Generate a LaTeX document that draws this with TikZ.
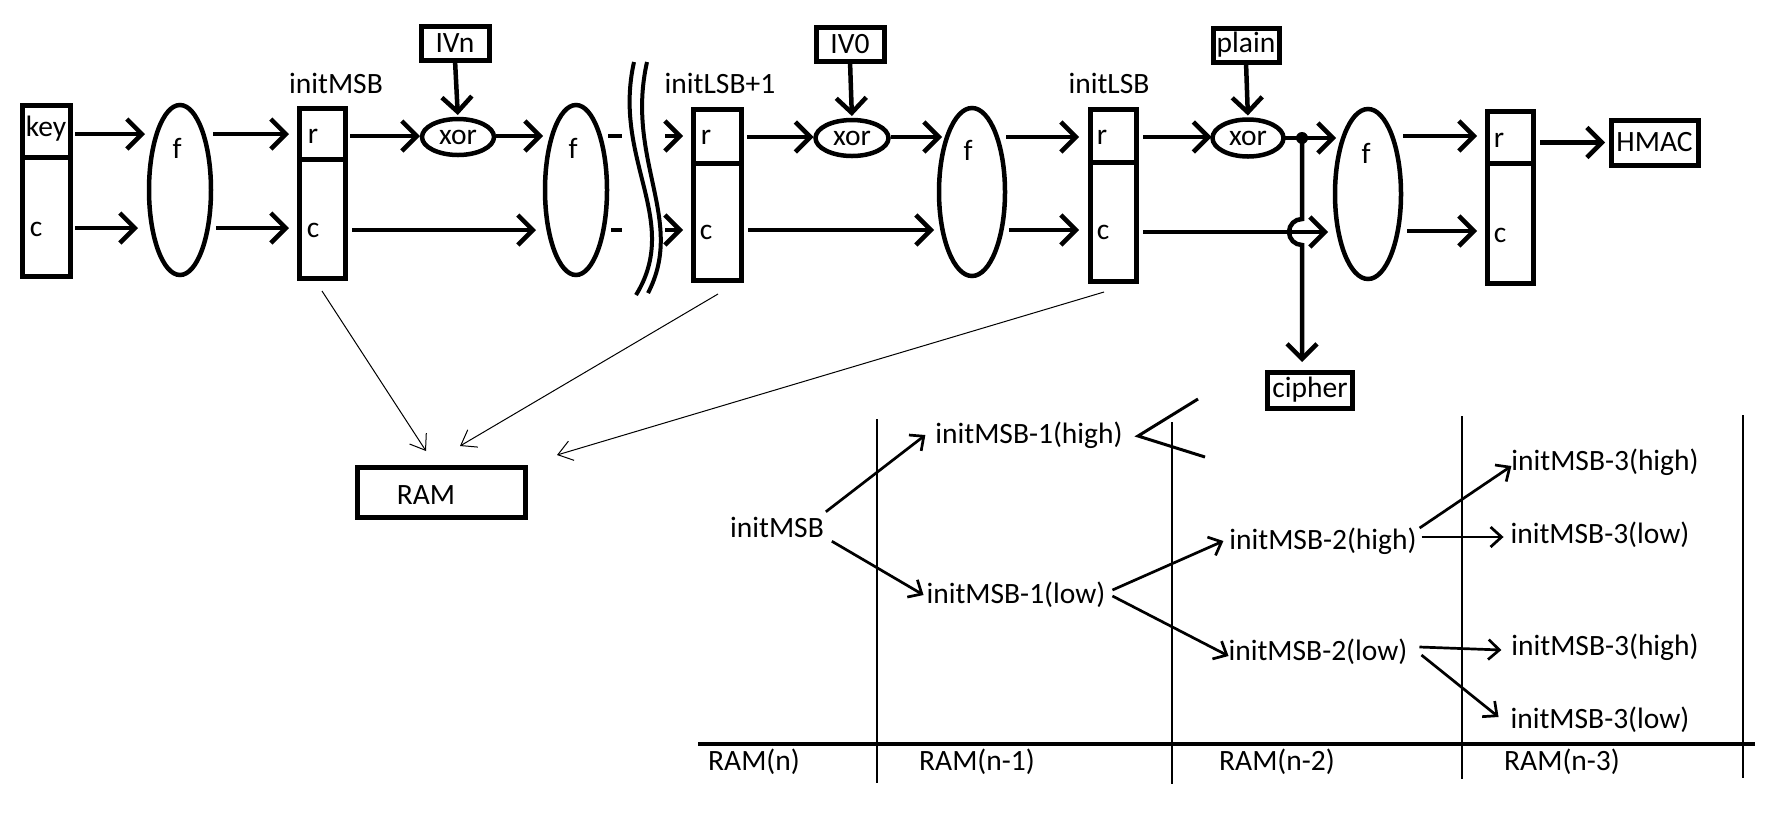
\documentclass[tikz,border=0pt]{standalone}
\usepackage{fontspec}
\setmainfont{Carlito}
\usetikzlibrary{arrows.meta,shapes.geometric,calc}
\begin{document}
\begin{tikzpicture}[x=1pt,y=-1pt,
 every node/.style={font=\fontsize{29.5}{32}\selectfont, inner sep=0pt, outer sep=0pt},
 bx/.style={draw, line width=5pt, rectangle},
 ell/.style={draw, line width=4.5pt, ellipse},
 arr/.style={line width=4.5pt, -{Straight Barb[length=15pt,width=30pt]}},
 tarr/.style={line width=2.7pt, -{Straight Barb[length=11pt,width=20pt]}},
 farr/.style={line width=1pt, -{Straight Barb[length=14pt,width=20pt]}},
 tline/.style={line width=2.7pt},
 brk/.style={line width=4pt},
]
\fill[white] (0,0) rectangle (1784,831);
\useasboundingbox (0,0) rectangle (1784,831);

% row coordinates
\coordinate (yR1) at (0,134); \coordinate (yC1) at (0,228);
\coordinate (yR2) at (0,136); \coordinate (yC2) at (0,230);
\coordinate (yR3) at (0,137); \coordinate (yC3) at (0,230);
\coordinate (yR4) at (0,137); \coordinate (yC4) at (0,232);
\coordinate (yR5) at (0,136); \coordinate (yC5) at (0,231);

% registers
\node[bx, minimum width=48pt, minimum height=52pt] (keyT) at (46,131) {};
\node[bx, minimum width=48pt, minimum height=119pt] (keyC) at (46,216.5) {};
\node (tkey) at (46,129) {key};
\node (tkc) at (36,229) {c};

\node[bx, minimum width=46pt, minimum height=51pt] (msbT) at (322,133.5) {};
\node[bx, minimum width=46pt, minimum height=119pt] (msbC) at (322,218.5) {};
\node (tmr) at (313,136) {r};
\node (tmc) at (313,230) {c};
\node (lmsb) at (336,83) {initMSB};

\node[bx, minimum width=48pt, minimum height=54pt] (lsb1T) at (717,136) {};
\node[bx, minimum width=48pt, minimum height=117pt] (lsb1C) at (717,221.5) {};
\node (t1r) at (706,137) {r};
\node (t1c) at (706,232) {c};
\node (llsb1) at (720,83) {initLSB+1};

\node[bx, minimum width=46pt, minimum height=53pt] (lsbT) at (1113,135.5) {};
\node[bx, minimum width=46pt, minimum height=119pt] (lsbC) at (1113,221.5) {};
\node (tlr) at (1102,137) {r};
\node (tlc) at (1103,232) {c};
\node (llsb) at (1109,83) {initLSB};

\node[bx, minimum width=46pt, minimum height=52pt] (lastT) at (1510,137) {};
\node[bx, minimum width=46pt, minimum height=120pt] (lastC) at (1510,223) {};
\node (tzr) at (1499,140) {r};
\node (tzc) at (1500,235) {c};

% functions
\node[ell, minimum width=62pt, minimum height=170pt] (f1) at (180,190) {};
\node (tf1) at (177,148) {f};
\node[ell, minimum width=62pt, minimum height=170pt] (f2) at (576,190) {};
\node (tf2) at (573,148) {f};
\node[ell, minimum width=66pt, minimum height=168pt] (f3) at (972,192) {};
\node (tf3) at (968,150) {f};
\node[ell, minimum width=66pt, minimum height=170pt] (f4) at (1368,194) {};
\node (tf4) at (1366,153) {f};

% xors
\node[ell, minimum width=72pt, minimum height=36pt] (x1) at (458,137) {xor};
\node[ell, minimum width=73pt, minimum height=36pt] (x2) at (852,138) {xor};
\node[ell, minimum width=71pt, minimum height=37pt] (x3) at (1248,138) {xor};

% inputs / outputs
\node[bx, minimum width=68pt, minimum height=34pt] (ivn) at (455,43) {IVn};
\node[bx, minimum width=68pt, minimum height=34pt] (iv0) at (850,44) {IV0};
\node[bx, minimum width=66pt, minimum height=34pt] (plain) at (1246,45) {plain};
\node[bx, minimum width=87pt, minimum height=45pt] (hmac) at (1654.5,142.5) {HMAC};
\node[bx, minimum width=85pt, minimum height=36pt] (cipher) at (1310,390) {cipher};
\node[bx, minimum width=168pt, minimum height=50pt] (ram) at (441,492) {};
\node (tram) at (426,495) {RAM};

% stage 1
\draw[arr, shorten <=5pt, shorten >=4pt] (keyT.east |- yR1) -- (f1.west |- yR1);
\draw[arr, shorten <=5pt, shorten >=11pt] (keyC.east |- yC1) -- (f1.west |- yC1);
\draw[arr, shorten <=2pt, shorten >=10pt] (f1.east |- yR1) -- (msbT.west |- yR1);
\draw[arr, shorten <=5pt, shorten >=10pt] (f1.east |- yC1) -- (msbC.west |- yC1);

% stage 2
\draw[arr, shorten <=5pt, shorten >=2pt] (msbT.east |- yR2) -- (x1.west |- yR2);
\draw[arr, shorten <=2pt, shorten >=2pt] (x1.east |- yR2) -- (f2.west |- yR2);
\draw[arr, shorten <=7pt, shorten >=9pt] (msbC.east |- yC2) -- (f2.west |- yC2);
\draw[arr, shorten <=0pt, shorten >=4pt] (ivn.south) -- (x1.north);
\draw[line width=4.5pt, shorten <=1pt] (f2.east |- yR2) -- +(15,0);
\draw[line width=4.5pt, shorten <=4pt] (f2.east |- yC2) -- +(15,0);
\draw[brk] (634,62) .. controls (612,160) and (682,220) .. (636,295);
\draw[brk] (647,62) .. controls (625,160) and (686,220) .. (648,293);
\draw[arr, shorten >=10pt] (lsb1T.west |- yR2) ++(-28,0) -- (lsb1T.west |- yR2);
\draw[arr, shorten >=10pt] (lsb1C.west |- yC2) ++(-28,0) -- (lsb1C.west |- yC2);

% stage 3
\draw[arr, shorten <=6pt, shorten >=2pt] (lsb1T.east |- yR3) -- (x2.west |- yR3);
\draw[arr, shorten <=2pt, shorten >=-3pt] (x2.east |- yR3) -- (f3.west |- yR3);
\draw[arr, shorten <=7pt, shorten >=5pt] (lsb1C.east |- yC3) -- (f3.west |- yC3);
\draw[arr, shorten >=4pt] (iv0.south) -- (x2.north);
\draw[arr, shorten <=1pt, shorten >=11pt] (f3.east |- yR3) -- (lsbT.west |- yR3);
\draw[arr, shorten <=4pt, shorten >=11pt] (f3.east |- yC3) -- (lsbC.west |- yC3);

% stage 4
\draw[arr, shorten <=7pt, shorten >=1pt] (lsbT.east |- yR4) -- (x3.west |- yR4);
\draw[arr, shorten >=4pt] (plain.south) -- (x3.north);
\coordinate (split) at (1302,138);
\draw[arr, shorten >=-1pt] (x3.east) -- (f4.west |- x3.east);
\fill (split) circle (6pt);
\draw[arr, shorten <=7pt, shorten >=7pt] (lsbC.east |- yC4) -- (f4.west |- yC4);
\draw[arr, shorten >=10pt] (split) -- (1302,219) arc[start angle=90, end angle=270, radius=13pt] -- (split |- cipher.north);

% stage 5
\draw[arr, shorten <=2pt, shorten >=10pt] (f4.east |- yR5) -- (lastT.west |- yR5);
\draw[arr, shorten <=6pt, shorten >=10pt] (f4.east |- yC5) -- (lastC.west |- yC5);
\draw[arr, shorten <=7pt, shorten >=6pt] (lastT.east |- hmac.west) -- (hmac.west);

% thin arrows to RAM
\draw[farr] ([yshift=-13pt]msbC.south) -- ([xshift=-15pt,yshift=16pt]ram.north);
\draw[farr] ([xshift=1pt,yshift=-14pt]lsb1C.south) -- ([xshift=19pt,yshift=21pt]ram.north);
\draw[farr] ([xshift=-9pt,yshift=-11pt]lsbC.south) -- ([xshift=32pt,yshift=12pt]ram.north east);

% table
\draw[tline] (877,419) -- (877,783);
\draw[tline] (1172,422) -- (1172,784);
\draw[tline] (1462,416) -- (1462,779);
\draw[tline] (1743,415) -- (1743,778);
\draw[line width=4pt] (698,744) -- (1755,744);
\node (rn) at (754,762) {RAM(n)};
\node (rn1) at (977,762) {RAM(n-1)};
\node (rn2) at (1277,762) {RAM(n-2)};
\node (rn3) at (1562,762) {RAM(n-3)};

% tree
\node (m) at (777,527) {initMSB};
\node (h1) at (1029,435) {initMSB-1(high)};
\node (l1) at (1016,595) {initMSB-1(low)};
\node (h2) at (1323,541) {initMSB-2(high)};
\node (l2) at (1318,652) {initMSB-2(low)};
\node (h3a) at (1605,462) {initMSB-3(high)};
\node (l3a) at (1600,535) {initMSB-3(low)};
\node (h3b) at (1605,647) {initMSB-3(high)};
\node (l3b) at (1600,720) {initMSB-3(low)};

\draw[tarr] ([shift={(2,-5)}]m.north east) -- ([xshift=-10pt]h1.west);
\draw[tarr] ([shift={(8,4)}]m.south east) -- ([xshift=-3pt]l1.west);
\draw[tarr] ([shift={(7,-5)}]l1.east) -- ([xshift=-6pt]h2.west);
\draw[tarr] ([shift={(7,1)}]l1.east) -- ([shift={(0,4)}]l2.west);
\draw[tarr] ([shift={(3,-13)}]h2.east) -- ([shift={(0,4)}]h3a.west);
\draw[tarr] ([shift={(5,-4)}]h2.east) -- ([shift={(-7,2)}]l3a.west);
\draw[tarr] ([shift={(12,-5)}]l2.east) -- ([shift={(-10,3)}]h3b.west);
\draw[tarr] ([shift={(14,3)}]l2.east) -- ([shift={(-12,-3)}]l3b.west);

% stray mark
\draw[line width=3pt] (1198,399) -- (1138,436) -- (1205,457);
\end{tikzpicture}
\end{document}
